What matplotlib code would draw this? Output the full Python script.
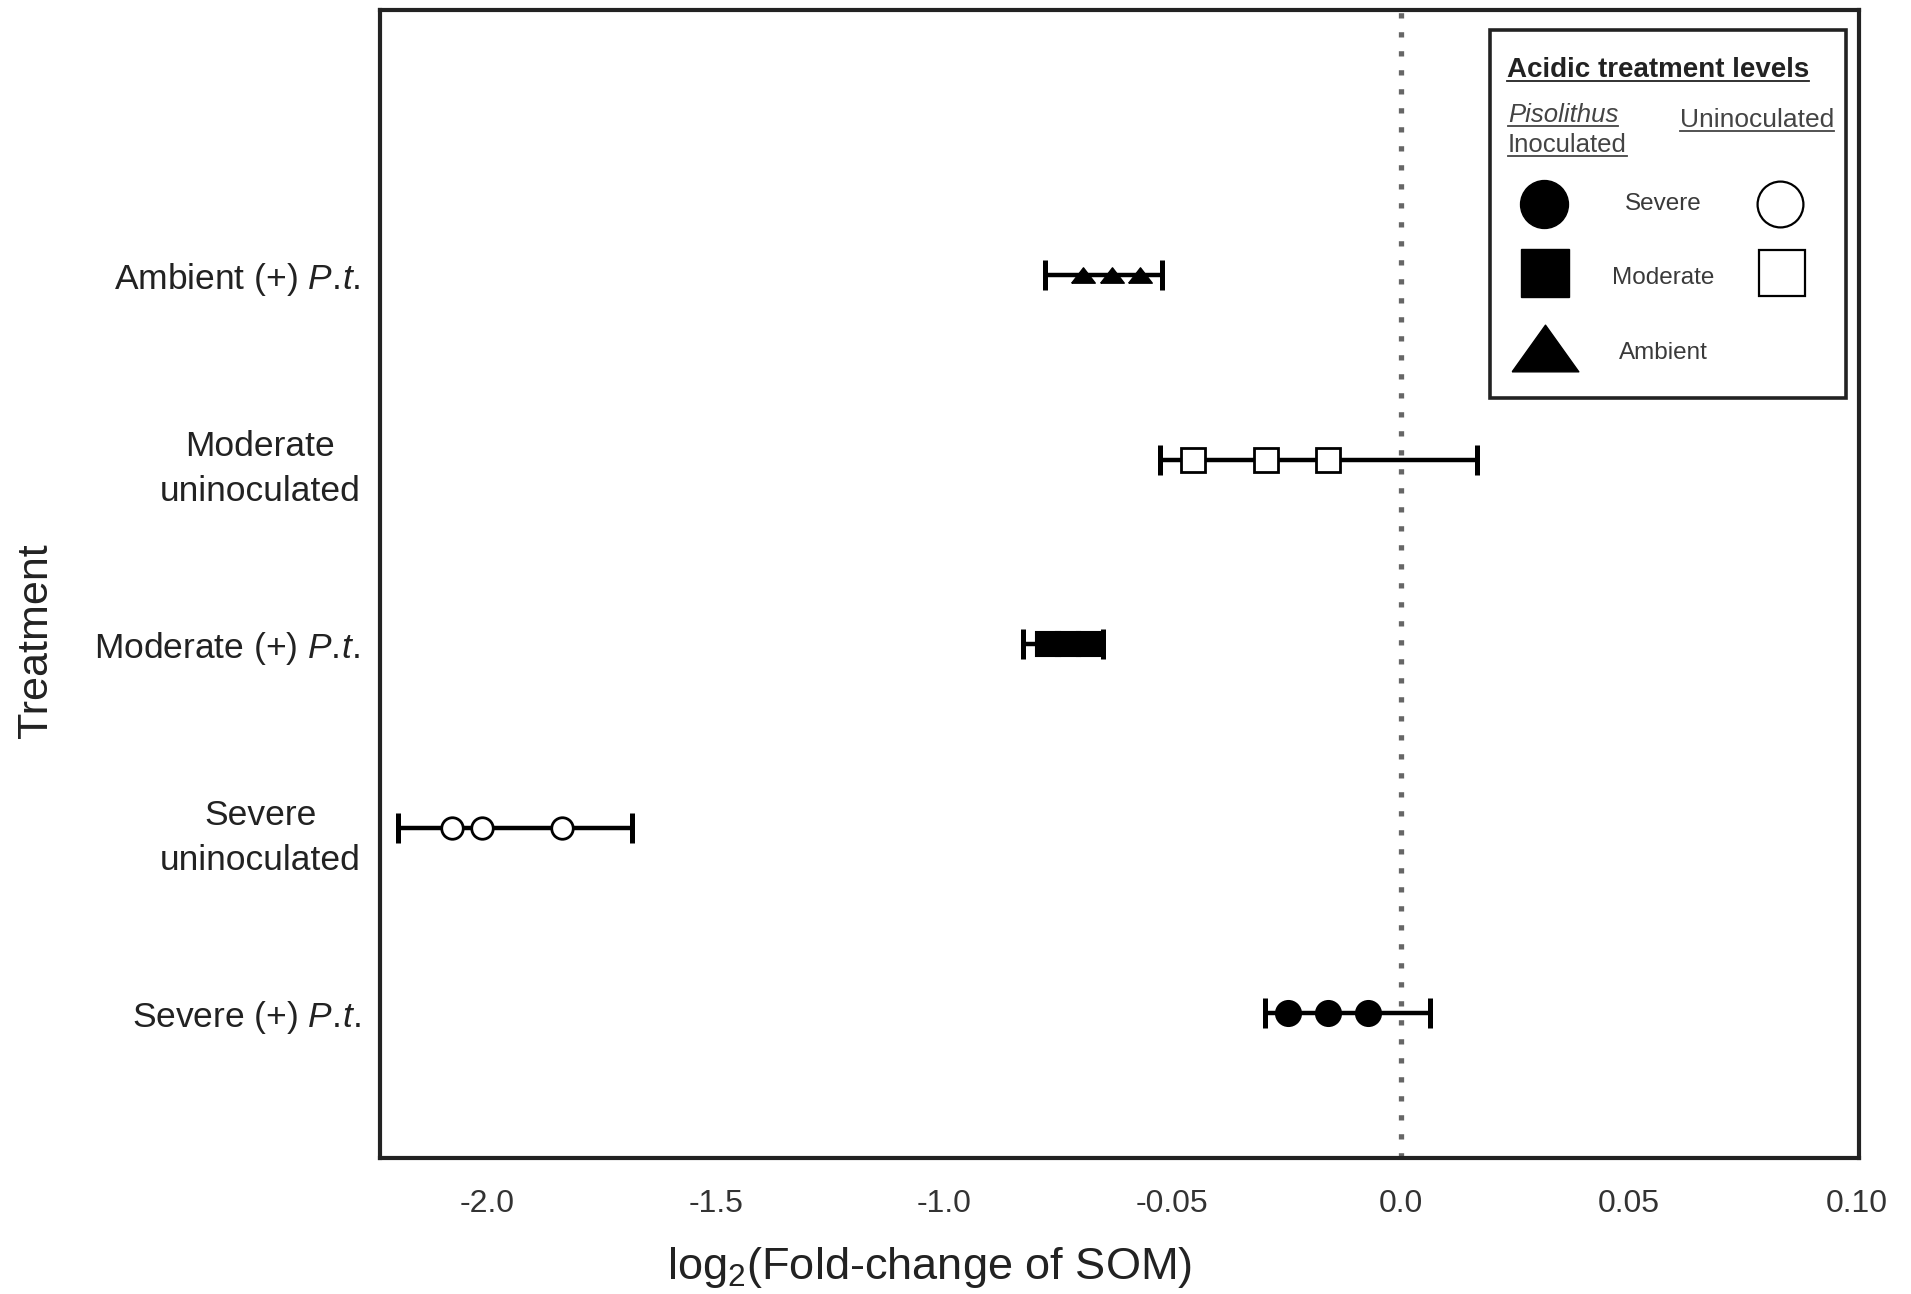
import numpy as np
import matplotlib
matplotlib.use("Agg")
import matplotlib.pyplot as plt
from matplotlib.lines import Line2D
from matplotlib.patches import Rectangle

plt.rcParams['font.family'] = ['Liberation Sans', 'DejaVu Sans']
plt.rcParams['mathtext.fontset'] = 'custom'
plt.rcParams['mathtext.rm'] = 'Liberation Sans'
plt.rcParams['mathtext.it'] = 'Liberation Sans:italic'

# --- data (bottom -> top) ---
treatments = ["Severe (+) $\\mathit{P.\\!t.}$", "Severe\nuninoculated",
              "Moderate (+) $\\mathit{P.\\!t.}$", "Moderate\nuninoculated",
              "Ambient (+) $\\mathit{P.\\!t.}$"]
lower = [-0.0296, -0.2195, -0.0826, -0.0527, -0.0778]
upper = [0.0065, -0.1683, -0.0651, 0.0168, -0.0522]
points = [
    [-0.0246, -0.0158, -0.0071],
    [-0.2077, -0.2011, -0.1836],
    [-0.0772, -0.0728, -0.0682],
    [-0.0454, -0.0294, -0.0158],
    [-0.0695, -0.0631, -0.0570],
]
xtick_pos = [-0.20, -0.15, -0.10, -0.05, 0.0, 0.05, 0.10]
xtick_labels = ["-2.0", "-1.5", "-1.0", "-0.05", "0.0", "0.05", "0.10"]

tri = [(-1, -0.65), (1, -0.65), (0, 0.65), (-1, -0.65)]
styles = [
    dict(marker='o', ms=18, mfc='black', mec='black', mew=1.5),
    dict(marker='o', ms=15.5, mfc='white', mec='black', mew=2),
    dict(marker='s', ms=17, mfc='black', mec='black', mew=1.5),
    dict(marker='s', ms=17, mfc='white', mec='black', mew=2),
    dict(marker=tri, ms=17, mfc='black', mec='black', mew=1),
]

W, H = 1911, 1294
fig = plt.figure(figsize=(W / 100, H / 100), dpi=100)
ax = fig.add_axes([380 / W, 1 - 1158 / H, (1858.5 - 380) / W, (1158 - 9.75) / H])

ax.axvline(0, color='#666666', lw=3.8, ls=(0, (1, 2.6)), dash_capstyle='butt', zorder=1)

ypos = np.arange(1, len(treatments) + 1)
for i, y in enumerate(ypos):
    c = points[i][1]
    ax.errorbar(c, y, xerr=[[c - lower[i]], [upper[i] - c]], fmt='none',
                ecolor='black', elinewidth=3.2, capsize=11, capthick=3.6, zorder=2)
    ax.plot(points[i], [y] * len(points[i]), ls='none', zorder=3, **styles[i])

ax.set_xlim(-0.2235, 0.1003)
ax.set_ylim(0.2127, 6.441)
ax.set_xticks(xtick_pos)
ax.set_xticklabels(xtick_labels, fontsize=23, color='#333333')
ax.set_yticks(ypos)
ax.set_yticklabels(treatments, fontsize=25.5, multialignment='center', linespacing=1.45,
                   color='#222222')
ax.tick_params(axis='both', length=0)
ax.tick_params(axis='x', pad=22)
ax.tick_params(axis='y', pad=14)
for s in ax.spines.values():
    s.set_linewidth(3)
    s.set_color('#222222')

fig.text(930 / W, 1 - 1267 / H, r"log$_\mathrm{2}$(Fold-change of SOM)",
         ha='center', va='center', fontsize=32.5, color='#222222')
fig.text(36 / W, 1 - 641 / H, "Treatment", rotation=90, ha='center', va='center',
         fontsize=31, color='#222222')

# --- custom legend box (figure pixel coords) ---
def fp(x, y):
    return x / W, 1 - y / H

x0, y0 = fp(1490, 398)
x1, y1 = fp(1846, 30)
fig.add_artist(Rectangle((x0, y0), x1 - x0, y1 - y0, transform=fig.transFigure,
                         fill=True, facecolor='white', edgecolor='#222222', lw=2.6, zorder=5))

heads = [
    ("Acidic treatment levels", 1507, 77, dict(fontsize=20, fontweight='bold', color='#222222')),
    ("Pisolithus", 1508, 122, dict(fontsize=18.5, fontstyle='italic', color='#444444')),
    ("Inoculated", 1508, 152, dict(fontsize=18.5, color='#444444')),
    ("Uninoculated", 1680, 127, dict(fontsize=19, color='#444444')),
]
htexts = []
for txt, x, y, kw in heads:
    t = fig.text(*fp(x, y), txt, ha='left', va='baseline', zorder=6, **kw)
    htexts.append((t, y))

labels = [("Severe", 204), ("Moderate", 278), ("Ambient", 353)]
for txt, y in labels:
    fig.text(*fp(1663, y), txt, ha='center', va='center', fontsize=17.5, color='#3a3a3a', zorder=6)

leg_marks = [
    (1544, 204, dict(marker='o', ms=34.5, mfc='black', mec='black')),
    (1545, 273, dict(marker='s', ms=34.5, mfc='black', mec='black')),
    (1545, 348, dict(marker=[(-1, -0.7), (1, -0.7), (0, 0.7), (-1, -0.7)], ms=48, mfc='black', mec='black')),
    (1780, 204, dict(marker='o', ms=33, mfc='white', mec='black', mew=1.6)),
    (1782, 273, dict(marker='s', ms=33, mfc='white', mec='black', mew=1.6)),
]
for x, y, kw in leg_marks:
    fig.add_artist(Line2D([x / W], [1 - y / H], transform=fig.transFigure, ls='none', zorder=6, **kw))

# underlines under the legend headings
fig.canvas.draw()
r = fig.canvas.get_renderer()
for t, y in htexts:
    bb = t.get_window_extent(r)
    yy = 1 - (y + 4) / H
    fig.add_artist(Line2D([bb.x0 / W, bb.x1 / W], [yy, yy], transform=fig.transFigure,
                          color=t.get_color(), lw=1.3, zorder=6))

fig.savefig("out.png", dpi=100)
